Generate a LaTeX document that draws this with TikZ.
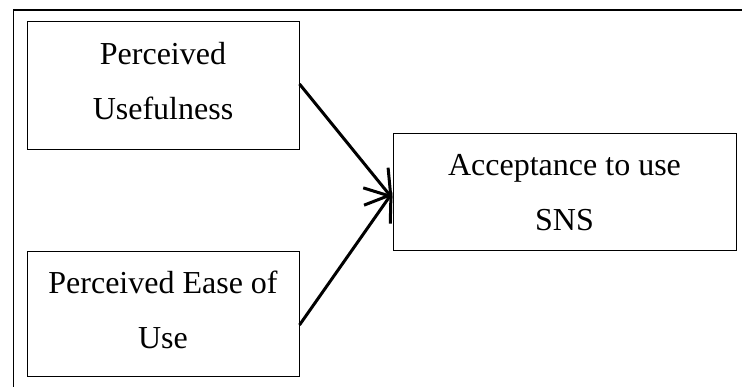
\documentclass[tikz,border=0pt]{standalone}
\usepackage{fontspec}
\setmainfont{Liberation Serif}
\usetikzlibrary{arrows.meta}
\tikzset{
  concept/.style={draw, line width=1pt, inner sep=0pt, align=center,
    font=\fontsize{32}{55}\selectfont},
  raised/.style={text depth=10pt},
  link/.style={line width=3pt, -{Straight Barb[length=24pt,width=32pt,line width=3pt]}},
  frameline/.style={line width=1.8pt}
}
\begin{document}
\begin{tikzpicture}[x=1pt,y=-1pt]
  \useasboundingbox (0,0) rectangle (742,387);
  % enclosing frame (left and top edges)
  \coordinate (fa) at (13.5,387);
  \coordinate (fb) at (13.5,10);
  \coordinate (fc) at (742,10);
  \draw[frameline] (fa) -- (fb) -- (fc);
  % constructs
  \node[concept, raised, minimum width=272pt, minimum height=128pt] (pu) at (163,86) {Perceived\\Usefulness};
  \node[concept, raised, minimum width=272pt, minimum height=125pt] (peou) at (163,314.5) {Perceived Ease of\\Use};
  \node[concept, minimum width=343pt, minimum height=117pt] (acc) at (564.5,192.5) {Acceptance to use\\SNS};
  % relations
  \draw[link] (pu.east |- 0,84) -- ([yshift=-6pt]acc.west);
  \draw[link] (peou.east |- 0,325) -- ([yshift=0pt]acc.west);
\end{tikzpicture}
\end{document}
